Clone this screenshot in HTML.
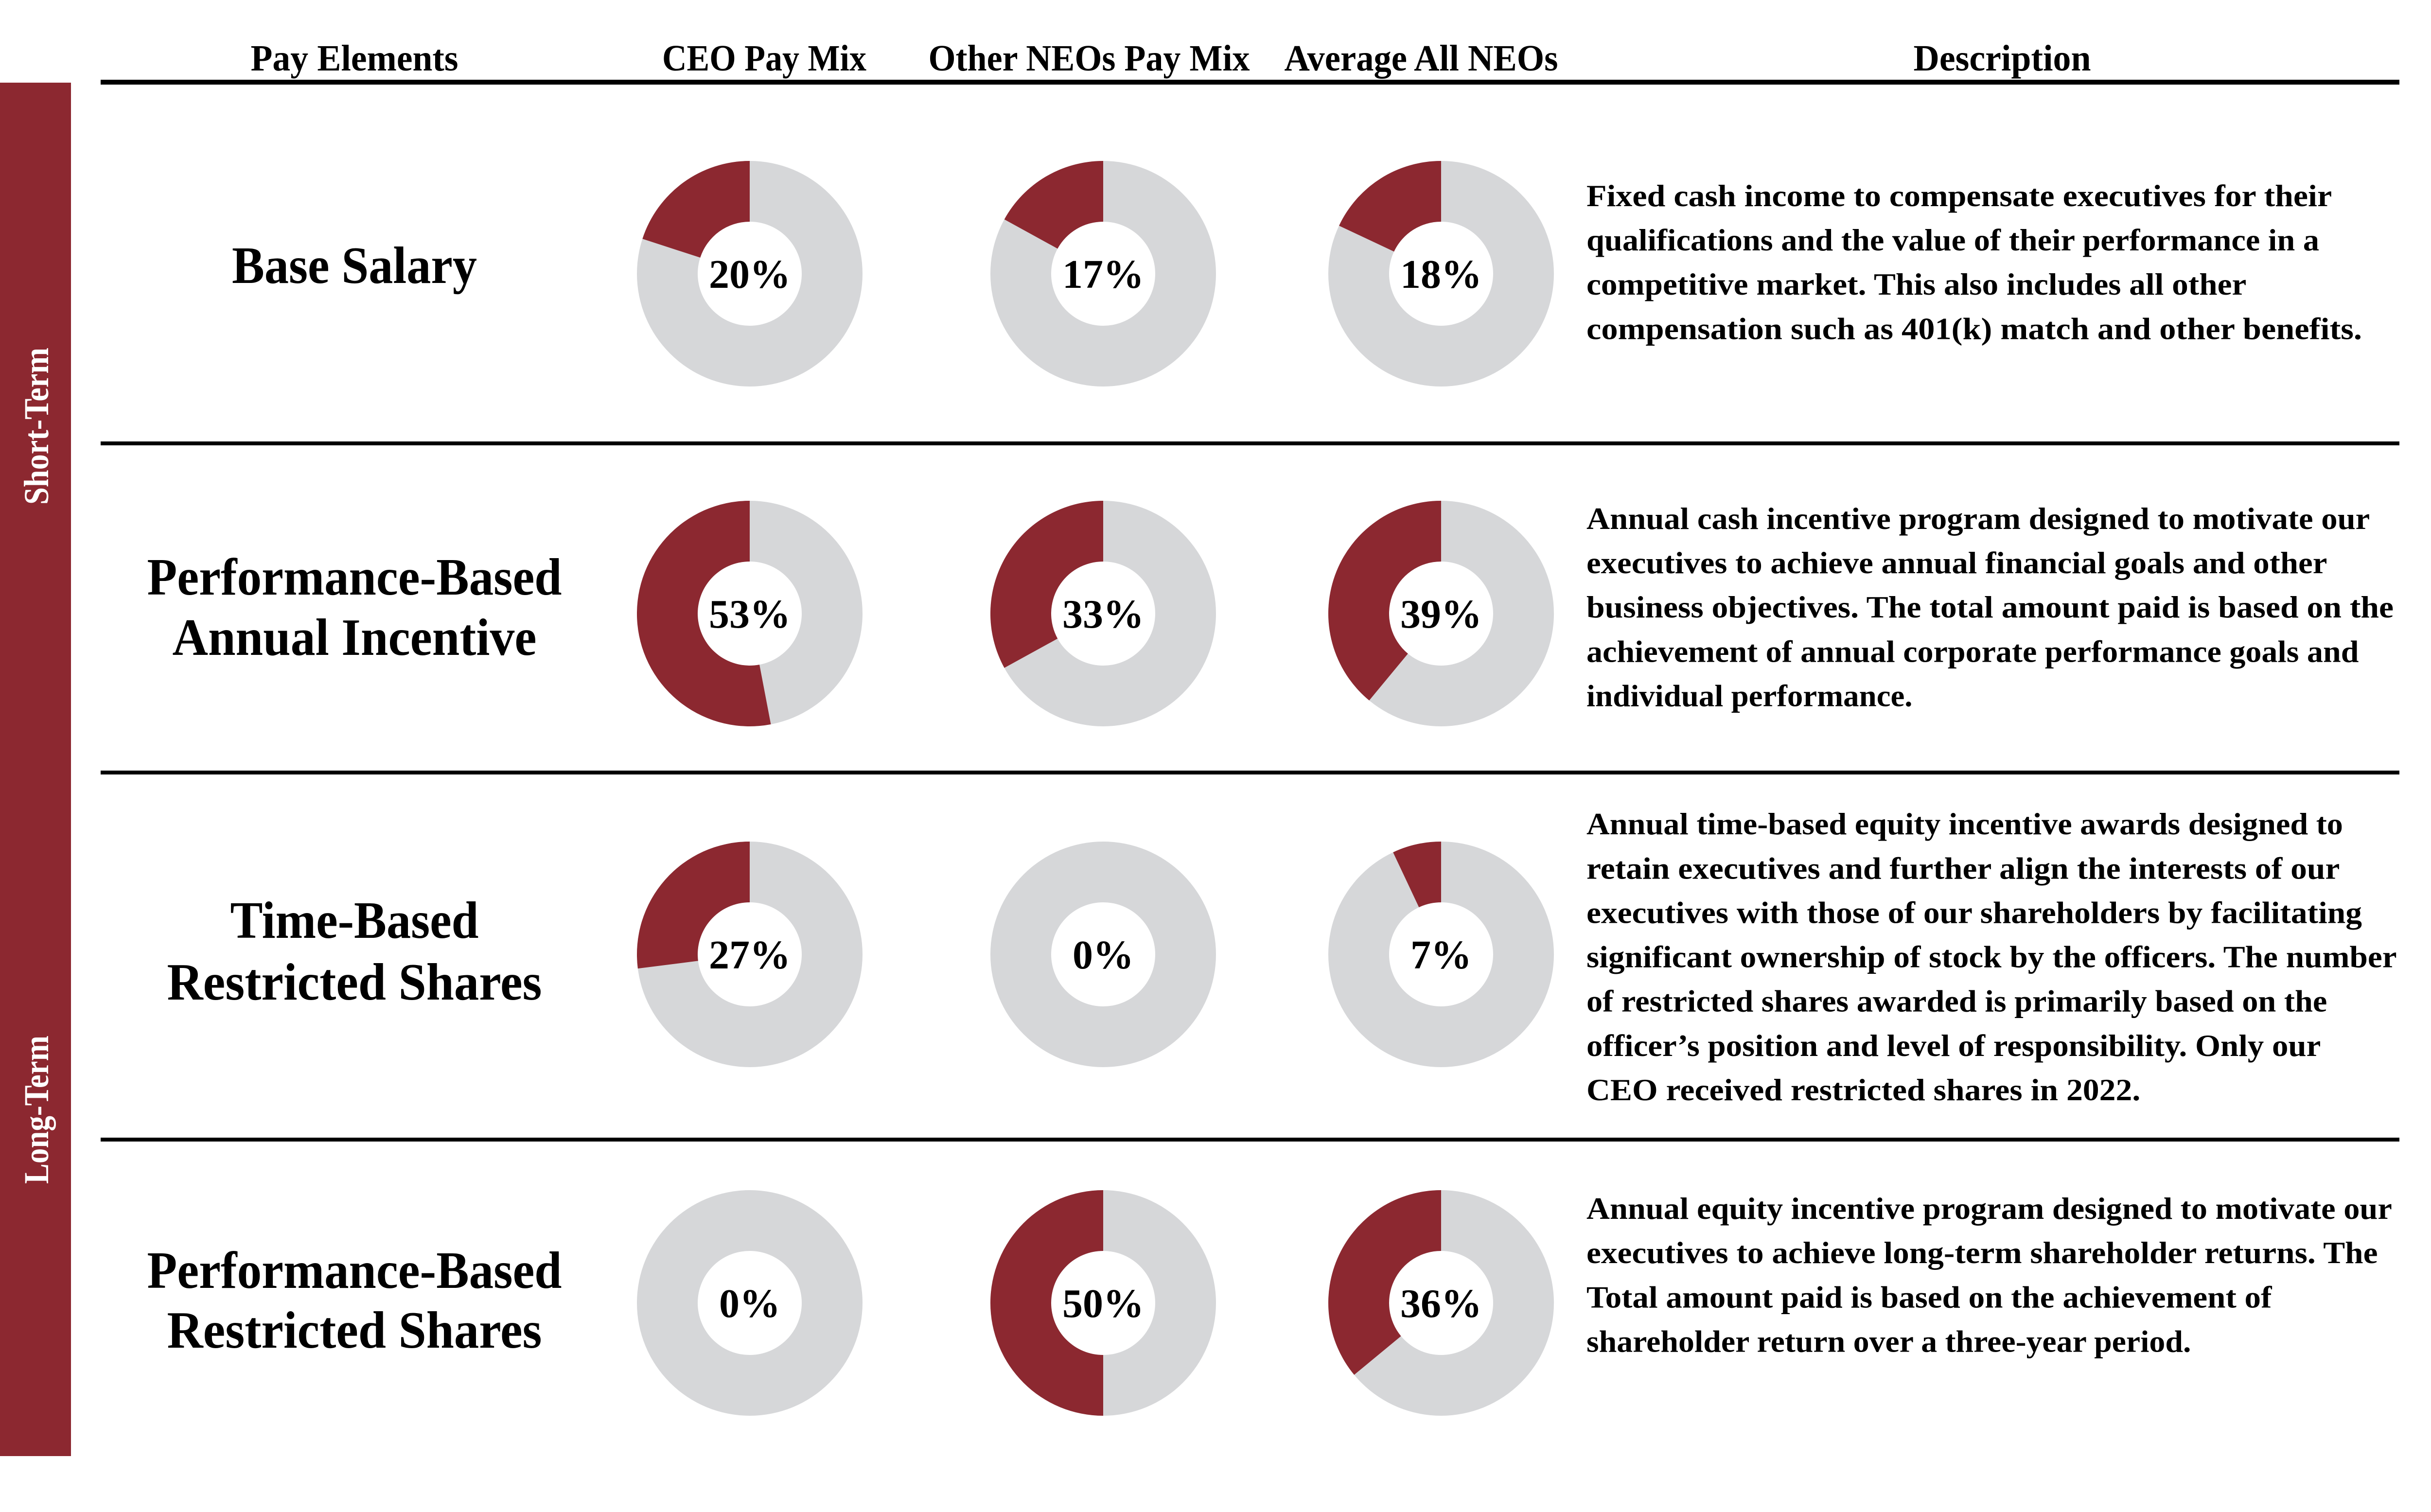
<!DOCTYPE html>
<html><head><meta charset="utf-8"><style>
html,body{margin:0;padding:0;background:#fff;}
svg{display:block;font-family:"Liberation Serif",serif;font-weight:bold;}
</style></head><body>
<svg id="chart" width="5101" height="3110" viewBox="0 0 5101 3110" xmlns="http://www.w3.org/2000/svg">
<rect x="0" y="170" width="146" height="2825" fill="#8C2830"/>
<text transform="translate(99,1038) rotate(-90)" font-size="72" fill="#fff" textLength="323" lengthAdjust="spacingAndGlyphs">Short-Term</text>
<text transform="translate(99,2435) rotate(-90)" font-size="72" fill="#fff" textLength="305" lengthAdjust="spacingAndGlyphs">Long-Term</text>
<rect x="207" y="164" width="4728" height="10" fill="#000"/>
<rect x="207" y="908" width="4728" height="8" fill="#000"/>
<rect x="207" y="1585" width="4728" height="8" fill="#000"/>
<rect x="207" y="2340" width="4728" height="8" fill="#000"/>
<g id="content"></g>
</svg>
<script>
const categories = ["Base Salary","Performance-Based Annual Incentive","Time-Based Restricted Shares","Performance-Based Restricted Shares"];
const ceoValues = [20,53,27,0];
const otherValues = [17,33,0,50];
const avgValues = [18,39,7,36];
const columnHeaders = ["Pay Elements","CEO Pay Mix","Other NEOs Pay Mix","Average All NEOs","Description"];

const NS="http://www.w3.org/2000/svg";
const g=document.getElementById('content');
function mk(tag,attrs,txt){const e=document.createElementNS(NS,tag);for(const k in attrs)e.setAttribute(k,attrs[k]);if(txt!==undefined)e.textContent=txt;g.appendChild(e);return e;}

// headers
const hdrX=[729,1572,2240,2923,4118], hdrW=[427,420,661,563,365];
columnHeaders.forEach((h,i)=>{
  const t=mk('text',{x:hdrX[i],y:145,'font-size':76,'text-anchor':'middle',textLength:hdrW[i],lengthAdjust:'spacingAndGlyphs'},h);
  
  
});

// row labels
const labelLines=[["Base Salary"],["Performance-Based","Annual Incentive"],["Time-Based","Restricted Shares"],["Performance-Based","Restricted Shares"]];
const labelW={"Base Salary":504,"Performance-Based":853,"Annual Incentive":749,"Time-Based":511,"Restricted Shares":771};
const labelBase=[[582],[1223,1347],[1929,2056],[2649,2772]];
labelLines.forEach((ls,r)=>ls.forEach((l,j)=>{
  const t=mk('text',{x:729,y:labelBase[r][j],'font-size':108,'text-anchor':'middle',textLength:labelW[l],lengthAdjust:'spacingAndGlyphs'},l);
  
  
}));

// donuts
const colX=[1542,2269,2964];
const rowY=[563,1262,1963,2680];
const R=232, r=107;
const series=[ceoValues,otherValues,avgValues];
function pt(cx,cy,rad,a){return [cx+rad*Math.sin(a), cy-rad*Math.cos(a)];}
series.forEach((vals,c)=>vals.forEach((v,rw)=>{
  const cx=colX[c], cy=rowY[rw];
  const ring=mk('path',{d:`M${cx-R},${cy}a${R},${R} 0 1,0 ${2*R},0a${R},${R} 0 1,0 ${-2*R},0M${cx-r},${cy}a${r},${r} 0 1,1 ${2*r},0a${r},${r} 0 1,1 ${-2*r},0Z`,fill:'#D6D7D9','fill-rule':'evenodd'});
  
  
  if(v>0){
    const a=-2*Math.PI*v/100;
    const [x1,y1]=pt(cx,cy,R,0),[x2,y2]=pt(cx,cy,R,a),[x3,y3]=pt(cx,cy,r,a),[x4,y4]=pt(cx,cy,r,0);
    const large=v>50?1:0;
    const s=mk('path',{d:`M${x1},${y1}A${R},${R} 0 ${large},0 ${x2},${y2}L${x3},${y3}A${r},${r} 0 ${large},1 ${x4},${y4}Z`,fill:'#8C2830'});
    
    
  }
  const t=mk('text',{x:cx,y:cy+29,'font-size':84,'text-anchor':'middle'},v+'%');
  
  
}));

// descriptions
const desc=[
 ["Fixed cash income to compensate executives for their","qualifications and the value of their performance in a","competitive market. This also includes all other","compensation such as 401(k) match and other benefits."],
 ["Annual cash incentive program designed to motivate our","executives to achieve annual financial goals and other","business objectives. The total amount paid is based on the","achievement of annual corporate performance goals and","individual performance."],
 ["Annual time-based equity incentive awards designed to","retain executives and further align the interests of our","executives with those of our shareholders by facilitating","significant ownership of stock by the officers. The number","of restricted shares awarded is primarily based on the","officer\u2019s position and level of responsibility. Only our","CEO received restricted shares in 2022."],
 ["Annual equity incentive program designed to motivate our","executives to achieve long-term shareholder returns. The","Total amount paid is based on the achievement of","shareholder return over a three-year period."]];
const descEnd=[[1474,1466,1420,1493],[1498,1471,1513,1491,1209],[1481,1479,1493,1515,1471,1467,1353],[1512,1503,1436,1385]];
const descTop=[125,329,522,765];
desc.forEach((ls,rw)=>ls.forEach((l,j)=>{
  const y=(descTop[rw]+28*j)*3.255+17;
  const w=(descEnd[rw][j]-1003)*3.255;
  const t=mk('text',{x:3263,y:y,'font-size':64,textLength:w,lengthAdjust:'spacingAndGlyphs'},l);
  
  
}));
</script>
</body></html>
